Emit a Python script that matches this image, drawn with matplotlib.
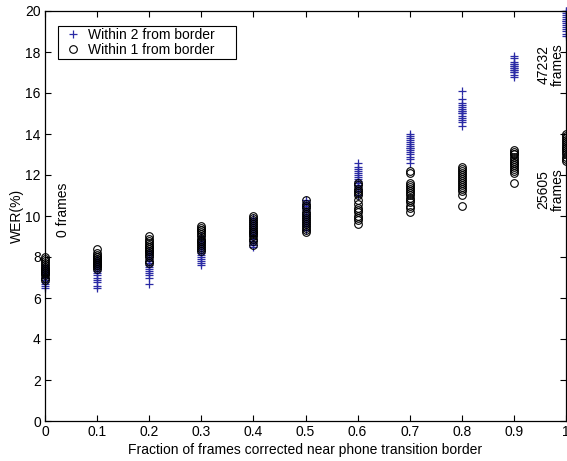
import numpy as np
import matplotlib

matplotlib.use("Agg")
import matplotlib.pyplot as plt

plt.rcParams["font.family"] = ["Liberation Sans", "DejaVu Sans"]
plt.rcParams["font.size"] = 10

# %%
fractions = [0.0, 0.1, 0.2, 0.3, 0.4, 0.5, 0.6, 0.7, 0.8, 0.9, 1.0]

# WER per run, corrections within 2 frames of the border
wer_within2 = [
    [6.5, 6.6, 6.7, 6.8, 6.9, 7.0, 7.0, 7.1, 7.2, 7.2, 7.3, 7.3, 7.4, 7.5, 7.6],
    [6.5, 6.6, 6.8, 6.9, 7.0, 7.1, 7.2, 7.3, 7.4, 7.5, 7.5, 7.6, 7.7, 7.8, 7.9],
    [6.7, 7.0, 7.1, 7.2, 7.3, 7.4, 7.5, 7.6, 7.7, 7.8, 7.9, 8.0, 8.1, 8.2, 8.3],
    [7.6, 7.7, 7.8, 7.9, 8.0, 8.1, 8.2, 8.3, 8.4, 8.5, 8.6, 8.7, 8.8, 8.9, 9.0],
    [8.5, 8.6, 8.7, 8.8, 8.9, 9.0, 9.1, 9.2, 9.3, 9.4, 9.5, 9.6, 9.7, 9.8, 9.9],
    [9.3, 9.5, 9.6, 9.7, 9.8, 9.9, 10.0, 10.1, 10.2, 10.3, 10.4, 10.5, 10.6, 10.7, 10.8],
    [11.0, 11.2, 11.3, 11.4, 11.5, 11.6, 11.7, 11.8, 11.9, 12.0, 12.1, 12.2, 12.3, 12.4, 12.6],
    [12.6, 12.8, 12.9, 13.0, 13.1, 13.2, 13.3, 13.3, 13.4, 13.5, 13.6, 13.7, 13.8, 13.9, 14.0],
    [14.4, 14.6, 14.7, 14.8, 14.9, 15.0, 15.0, 15.1, 15.1, 15.2, 15.3, 15.4, 15.5, 15.7, 16.1],
    [16.8, 16.9, 17.0, 17.0, 17.1, 17.1, 17.2, 17.2, 17.3, 17.3, 17.4, 17.4, 17.5, 17.7, 17.8],
    [18.8, 18.9, 19.0, 19.1, 19.2, 19.3, 19.4, 19.5, 19.5, 19.6, 19.7, 19.8, 19.9, 20.0, 20.0],
]

# WER per run, corrections within 1 frame of the border
wer_within1 = [
    [6.9, 7.0, 7.1, 7.2, 7.2, 7.3, 7.3, 7.4, 7.4, 7.5, 7.6, 7.7, 7.8, 7.9, 8.0],
    [7.4, 7.5, 7.6, 7.6, 7.7, 7.7, 7.8, 7.8, 7.9, 7.9, 8.0, 8.0, 8.1, 8.2, 8.4],
    [7.7, 7.8, 8.0, 8.1, 8.2, 8.3, 8.3, 8.4, 8.5, 8.5, 8.6, 8.7, 8.8, 8.9, 9.0],
    [8.3, 8.4, 8.5, 8.6, 8.7, 8.8, 8.8, 8.9, 9.0, 9.1, 9.2, 9.3, 9.3, 9.4, 9.5],
    [8.6, 8.8, 8.9, 9.0, 9.1, 9.2, 9.2, 9.3, 9.4, 9.5, 9.6, 9.7, 9.8, 9.9, 10.0],
    [9.2, 9.3, 9.4, 9.5, 9.6, 9.7, 9.8, 9.9, 10.0, 10.1, 10.2, 10.4, 10.5, 10.6, 10.8],
    [9.6, 9.8, 9.9, 10.0, 10.2, 10.3, 10.4, 10.6, 10.8, 11.0, 11.1, 11.2, 11.3, 11.5, 11.6],
    [10.2, 10.4, 10.5, 10.7, 10.8, 10.9, 11.0, 11.1, 11.2, 11.3, 11.4, 11.5, 11.6, 12.1, 12.2],
    [10.5, 11.0, 11.2, 11.3, 11.4, 11.5, 11.6, 11.7, 11.8, 11.9, 12.0, 12.1, 12.2, 12.3, 12.4],
    [11.6, 12.1, 12.2, 12.3, 12.4, 12.5, 12.6, 12.6, 12.7, 12.8, 12.9, 13.0, 13.0, 13.1, 13.2],
    [12.7, 12.8, 12.9, 13.0, 13.1, 13.2, 13.3, 13.3, 13.4, 13.5, 13.6, 13.7, 13.8, 13.9, 14.0],
]

x_ticks = fractions
x_tick_labels = ["0", "0.1", "0.2", "0.3", "0.4", "0.5", "0.6", "0.7", "0.8", "0.9", "1"]
y_ticks = [0, 2, 4, 6, 8, 10, 12, 14, 16, 18, 20]

# frame counts written next to the columns
annotations = [
    (0.034, 10.3, "0 frames"),
    (0.971, 17.4, "47232\nframes"),
    (0.971, 11.3, "25605\nframes"),
]

# %%
fig = plt.figure(figsize=(5.67, 4.61), dpi=100)
ax = fig.add_axes([45 / 567, 40 / 461, 521 / 567, 410 / 461])

blue = "#2a2aa5"

x2 = np.repeat(fractions, [len(v) for v in wer_within2])
y2 = np.concatenate(wer_within2)
x1 = np.repeat(fractions, [len(v) for v in wer_within1])
y1 = np.concatenate(wer_within1)

ax.plot(x2, y2, "+", color=blue, markersize=5.5, markeredgewidth=0.9,
        label="Within 2 from border     ", clip_on=False)
ax.plot(x1, y1, "o", color="k", markerfacecolor="none", markersize=5.5,
        markeredgewidth=0.8, label="Within 1 from border     ", clip_on=False)

for x, y, txt in annotations:
    ax.text(x, y, txt, rotation=90, ha="center", va="center", fontsize=10,
            linespacing=1.05)

ax.set_xlim(0, 1)
ax.set_ylim(0, 20)
ax.set_xticks(x_ticks)
ax.set_xticklabels(x_tick_labels)
ax.set_yticks(y_ticks)
ax.tick_params(direction="in", top=True, right=True, length=4, width=0.8,
               labelsize=10, pad=3)
for sp in ax.spines.values():
    sp.set_linewidth(0.9)

ax.set_xlabel("Fraction of frames corrected near phone transition border", labelpad=3)
ax.set_ylabel("WER(%)", labelpad=1)

leg = ax.legend(loc="upper left", bbox_to_anchor=(0.025, 0.963), borderaxespad=0,
                fancybox=False, edgecolor="k", framealpha=1, handlelength=1.8,
                handletextpad=0.2, borderpad=0.15, labelspacing=0.05, fontsize=10)
leg.get_frame().set_linewidth(0.8)

plt.savefig("out.png", dpi=100)
